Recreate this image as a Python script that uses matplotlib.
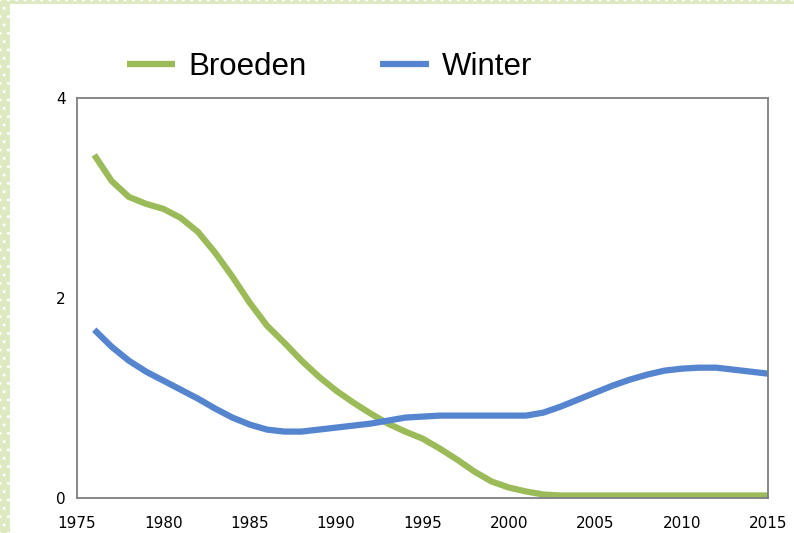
import matplotlib.pyplot as plt
from matplotlib.patches import Rectangle

# yearly values
years = list(range(1976, 2016))
broeden = [3.43, 3.17, 3.01, 2.94, 2.89, 2.80, 2.66, 2.45, 2.21, 1.95,
           1.72, 1.55, 1.37, 1.21, 1.07, 0.95, 0.84, 0.74, 0.66, 0.59,
           0.49, 0.38, 0.26, 0.16, 0.10, 0.06, 0.03, 0.02, 0.02, 0.02,
           0.02, 0.02, 0.02, 0.02, 0.02, 0.02, 0.02, 0.02, 0.02, 0.02]
winter = [1.68, 1.51, 1.37, 1.26, 1.17, 1.08, 0.99, 0.89, 0.80, 0.73,
          0.68, 0.66, 0.66, 0.68, 0.70, 0.72, 0.74, 0.77, 0.80, 0.81,
          0.82, 0.82, 0.82, 0.82, 0.82, 0.82, 0.85, 0.91, 0.98, 1.05,
          1.12, 1.18, 1.23, 1.27, 1.29, 1.30, 1.30, 1.28, 1.26, 1.24]
xticks = [1975, 1980, 1985, 1990, 1995, 2000, 2005, 2010, 2015]
yticks = [0, 2, 4]

fig = plt.figure(figsize=(7.94, 5.33), dpi=100)

# dotted green frame on the left and top edges
fig.patches.append(Rectangle((0, 0), 10 / 794, 1, transform=fig.transFigure,
                             facecolor='#dde9c0', edgecolor='white', hatch='..',
                             linewidth=0))
fig.patches.append(Rectangle((0, 1 - 4 / 533), 1, 4 / 533, transform=fig.transFigure,
                             facecolor='#dde9c0', edgecolor='white', hatch='..',
                             linewidth=0))

ax = fig.add_axes([77 / 794, 35.5 / 533, 691 / 794, 399.5 / 533])
ax.plot(years, broeden, color='#9bbb59', lw=4.5, label='Broeden',
        solid_joinstyle='round', solid_capstyle='butt')
ax.plot(years, winter, color='#5585cf', lw=4.5, label='Winter',
        solid_joinstyle='round', solid_capstyle='butt')

ax.set_xlim(1975, 2015)
ax.set_ylim(0, 4)
ax.set_xticks(xticks)
ax.set_yticks(yticks)
ax.tick_params(axis='both', length=0, labelsize=11)
ax.tick_params(axis='x', pad=13)
ax.tick_params(axis='y', pad=8)
for s in ax.spines.values():
    s.set_color('#7f7f7f')
    s.set_linewidth(1.3)

fig.legend(loc='center left', bbox_to_anchor=(127 / 794, 1 - 67 / 533), ncol=2,
           frameon=False, prop={'family': 'Liberation Sans', 'size': 22.5},
           handlelength=1.55, handletextpad=0.42, columnspacing=2.35,
           borderaxespad=0, borderpad=0)

fig.savefig('out.png', dpi=100)
